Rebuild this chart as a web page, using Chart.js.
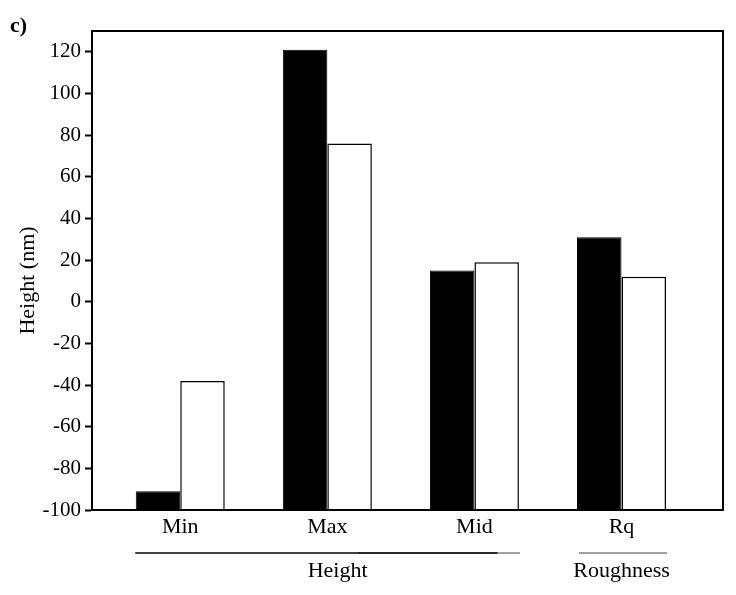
<!DOCTYPE html>
<html>
<head>
<meta charset="utf-8">
<script src="https://cdn.jsdelivr.net/npm/chart.js@4.4.1/dist/chart.umd.min.js"></script>
<style>
  body { margin: 0; background: #fff; }
</style>
</head>
<body>
<canvas id="chartCanvas" width="736" height="595"></canvas>
<script>
// data
const categories = ["Min", "Max", "Mid", "Rq"];
const seriesBlack = [-91, 121, 15, 31];
const seriesWhite = [-38, 76, 19, 12];
const yTicks = [-100, -80, -60, -40, -20, 0, 20, 40, 60, 80, 100, 120];
const groupNames = ["Height", "Roughness"];

const FONT = "Liberation Serif";

const toPoints = (vals) => vals.map((v, i) => ({ x: i, y: v }));

// box round the plot, panel letter, y title and the group lines under the axis
const decorations = {
  id: "decorations",
  afterDraw(chart) {
    const { ctx, chartArea, scales } = chart;
    const x = scales.x;
    ctx.save();
    ctx.strokeStyle = "#000";
    ctx.lineWidth = 2;
    ctx.strokeRect(chartArea.left, chartArea.top, chartArea.right - chartArea.left, chartArea.bottom - chartArea.top);

    ctx.fillStyle = "#000";
    ctx.font = "bold 22px '" + FONT + "'";
    ctx.textAlign = "left";
    ctx.textBaseline = "alphabetic";
    ctx.fillText("c)", 10, 32);

    // y title, a little below the middle as in the figure
    ctx.save();
    ctx.font = "22px '" + FONT + "'";
    ctx.textAlign = "center";
    ctx.textBaseline = "middle";
    ctx.translate(28, (chartArea.top + chartArea.bottom) / 2 + 10);
    ctx.rotate(-Math.PI / 2);
    ctx.fillText("Height (nm)", 0, 0);
    ctx.restore();

    const lineY = chartArea.bottom + 43;
    const lines = [
      { from: 1.21, to: 2.31, color: "#808080" },
      { from: -0.306, to: 2.156, color: "#000" },
      { from: 2.71, to: 3.31, color: "#808080" },
    ];
    ctx.lineWidth = 1.5;
    lines.forEach((l) => {
      ctx.strokeStyle = l.color;
      ctx.beginPath();
      ctx.moveTo(x.getPixelForValue(l.from), lineY);
      ctx.lineTo(x.getPixelForValue(l.to), lineY);
      ctx.stroke();
    });

    ctx.font = "22px '" + FONT + "'";
    ctx.textAlign = "center";
    const labelAt = [1.07, 3.0];
    groupNames.forEach((g, i) => {
      ctx.fillText(g, x.getPixelForValue(labelAt[i]), chartArea.bottom + 67);
    });
    ctx.restore();
  },
};

const ctx = document.getElementById("chartCanvas").getContext("2d");
new Chart(ctx, {
  type: "bar",
  data: {
    datasets: [
      {
        label: "black",
        data: toPoints(seriesBlack),
        backgroundColor: "#000",
        borderColor: "#000",
        borderWidth: 1,
        base: -100,
      },
      {
        label: "white",
        data: toPoints(seriesWhite),
        backgroundColor: "#fff",
        borderColor: "#000",
        borderWidth: 1.5,
        base: -100,
      },
    ],
  },
  options: {
    responsive: false,
    animation: false,
    categoryPercentage: 0.605,
    barPercentage: 1.0,
    layout: { padding: { left: 0, right: 13, top: 31, bottom: 0 } },
    plugins: {
      legend: { display: false },
      tooltip: { enabled: false },
    },
    scales: {
      x: {
        type: "linear",
        offset: false,
        min: -0.6,
        max: 3.69,
        afterBuildTicks: (s) => { s.ticks = categories.map((c, i) => ({ value: i })); },
        afterFit: (s) => { s.height = 85; },
        grid: { display: false, drawTicks: false },
        border: { display: true, color: "#000", width: 2 },
        ticks: {
          padding: 4,
          color: "#000",
          font: { family: FONT, size: 22 },
          callback: (v) => categories[v],
        },
      },
      y: {
        min: -100,
        max: 130,
        afterBuildTicks: (s) => { s.ticks = yTicks.map((v) => ({ value: v })); },
        afterFit: (s) => { s.width = 92; },
        grid: {
          drawOnChartArea: false,
          drawTicks: true,
          tickLength: 7,
          tickWidth: 2,
          tickColor: "#000",
        },
        border: { display: true, color: "#000", width: 2 },
        ticks: {
          padding: 4,
          color: "#000",
          font: { family: FONT, size: 21 },
        },
      },
    },
  },
  plugins: [decorations],
});
</script>
</body>
</html>
